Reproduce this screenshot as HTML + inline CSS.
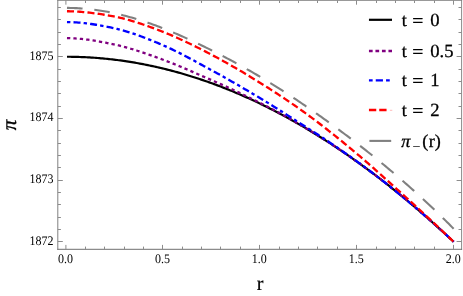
<!DOCTYPE html>
<html><head><meta charset="utf-8"><title>plot</title>
<style>html,body{margin:0;padding:0;background:#fff}svg{display:block;will-change:transform}text{text-rendering:geometricPrecision}</style></head>
<body>
<svg width="463" height="296" viewBox="0 0 463 296">
<rect width="463" height="296" fill="#fff"/>
<path d="M66.97,56.75 L68.58,56.76 L70.20,56.77 L71.82,56.79 L73.44,56.82 L75.06,56.85 L76.67,56.89 L78.29,56.94 L79.91,57.00 L81.53,57.05 L83.15,57.12 L84.76,57.19 L86.38,57.27 L88.00,57.36 L89.62,57.45 L91.23,57.55 L92.85,57.66 L94.47,57.77 L96.09,57.89 L97.71,58.01 L99.32,58.14 L100.94,58.28 L102.56,58.43 L104.18,58.58 L105.80,58.74 L107.41,58.90 L109.03,59.07 L110.65,59.25 L112.27,59.43 L113.88,59.62 L115.50,59.82 L117.12,60.03 L118.74,60.24 L120.36,60.45 L121.97,60.68 L123.59,60.90 L125.21,61.14 L126.83,61.38 L128.45,61.63 L130.06,61.89 L131.68,62.15 L133.30,62.42 L134.92,62.70 L136.54,62.98 L138.15,63.27 L139.77,63.56 L141.39,63.86 L143.01,64.17 L144.62,64.48 L146.24,64.81 L147.86,65.13 L149.48,65.47 L151.10,65.81 L152.71,66.15 L154.33,66.51 L155.95,66.87 L157.57,67.23 L159.19,67.61 L160.80,67.99 L162.42,68.37 L164.04,68.77 L165.66,69.16 L167.27,69.57 L168.89,69.98 L170.51,70.40 L172.13,70.83 L173.75,71.26 L175.36,71.70 L176.98,72.14 L178.60,72.59 L180.22,73.05 L181.84,73.51 L183.45,73.98 L185.07,74.46 L186.69,74.94 L188.31,75.43 L189.93,75.93 L191.54,76.43 L193.16,76.94 L194.78,77.46 L196.40,77.98 L198.01,78.51 L199.63,79.04 L201.25,79.59 L202.87,80.13 L204.49,80.69 L206.10,81.25 L207.72,81.82 L209.34,82.39 L210.96,82.97 L212.58,83.56 L214.19,84.15 L215.81,84.75 L217.43,85.36 L219.05,85.97 L220.67,86.59 L222.28,87.22 L223.90,87.85 L225.52,88.49 L227.14,89.13 L228.75,89.78 L230.37,90.44 L231.99,91.10 L233.61,91.78 L235.23,92.45 L236.84,93.14 L238.46,93.83 L240.08,94.52 L241.70,95.23 L243.32,95.93 L244.93,96.65 L246.55,97.37 L248.17,98.10 L249.79,98.84 L251.40,99.58 L253.02,100.32 L254.64,101.08 L256.26,101.84 L257.88,102.61 L259.49,103.38 L261.11,104.16 L262.73,104.95 L264.35,105.74 L265.97,106.54 L267.58,107.34 L269.20,108.15 L270.82,108.97 L272.44,109.80 L274.06,110.63 L275.67,111.46 L277.29,112.31 L278.91,113.16 L280.53,114.01 L282.14,114.88 L283.76,115.75 L285.38,116.62 L287.00,117.50 L288.62,118.39 L290.23,119.29 L291.85,120.19 L293.47,121.09 L295.09,122.01 L296.71,122.93 L298.32,123.85 L299.94,124.79 L301.56,125.72 L303.18,126.67 L304.79,127.62 L306.41,128.58 L308.03,129.54 L309.65,130.51 L311.27,131.49 L312.88,132.47 L314.50,133.46 L316.12,134.46 L317.74,135.46 L319.36,136.47 L320.97,137.48 L322.59,138.50 L324.21,139.53 L325.83,140.56 L327.45,141.60 L329.06,142.65 L330.68,143.70 L332.30,144.76 L333.92,145.83 L335.53,146.90 L337.15,147.97 L338.77,149.06 L340.39,150.15 L342.01,151.24 L343.62,152.35 L345.24,153.45 L346.86,154.57 L348.48,155.69 L350.10,156.82 L351.71,157.95 L353.33,159.09 L354.95,160.24 L356.57,161.39 L358.18,162.55 L359.80,163.71 L361.42,164.88 L363.04,166.06 L364.66,167.24 L366.27,168.43 L367.89,169.63 L369.51,170.83 L371.13,172.04 L372.75,173.25 L374.36,174.47 L375.98,175.70 L377.60,176.93 L379.22,178.17 L380.84,179.42 L382.45,180.67 L384.07,181.92 L385.69,183.19 L387.31,184.46 L388.92,185.73 L390.54,187.02 L392.16,188.30 L393.78,189.60 L395.40,190.90 L397.01,192.20 L398.63,193.52 L400.25,194.84 L401.87,196.16 L403.49,197.49 L405.10,198.83 L406.72,200.17 L408.34,201.52 L409.96,202.88 L411.58,204.24 L413.19,205.61 L414.81,206.98 L416.43,208.36 L418.05,209.75 L419.66,211.14 L421.28,212.54 L422.90,213.94 L424.52,215.35 L426.14,216.77 L427.75,218.19 L429.37,219.62 L430.99,221.05 L432.61,222.49 L434.23,223.94 L435.84,225.39 L437.46,226.85 L439.08,228.31 L440.70,229.78 L442.31,231.26 L443.93,232.74 L445.55,234.23 L447.17,235.72 L448.79,237.22 L450.40,238.73 L452.02,240.24 L453.64,241.76" fill="none" stroke="#000" stroke-width="2.2"/>
<path d="M66.97,38.15 L68.58,38.18 L70.20,38.22 L71.82,38.28 L73.44,38.35 L75.06,38.44 L76.67,38.55 L78.29,38.68 L79.91,38.82 L81.53,38.97 L83.15,39.14 L84.76,39.33 L86.38,39.52 L88.00,39.73 L89.62,39.95 L91.23,40.19 L92.85,40.43 L94.47,40.69 L96.09,40.95 L97.71,41.23 L99.32,41.51 L100.94,41.80 L102.56,42.10 L104.18,42.41 L105.80,42.72 L107.41,43.04 L109.03,43.37 L110.65,43.70 L112.27,44.04 L113.88,44.38 L115.50,44.73 L117.12,45.09 L118.74,45.47 L120.36,45.86 L121.97,46.27 L123.59,46.69 L125.21,47.12 L126.83,47.57 L128.45,48.03 L130.06,48.50 L131.68,48.98 L133.30,49.47 L134.92,49.97 L136.54,50.48 L138.15,51.00 L139.77,51.53 L141.39,52.07 L143.01,52.61 L144.62,53.16 L146.24,53.72 L147.86,54.28 L149.48,54.85 L151.10,55.42 L152.71,56.00 L154.33,56.58 L155.95,57.16 L157.57,57.75 L159.19,58.34 L160.80,58.93 L162.42,59.52 L164.04,60.12 L165.66,60.72 L167.27,61.33 L168.89,61.96 L170.51,62.59 L172.13,63.23 L173.75,63.88 L175.36,64.53 L176.98,65.19 L178.60,65.86 L180.22,66.53 L181.84,67.21 L183.45,67.90 L185.07,68.58 L186.69,69.28 L188.31,69.97 L189.93,70.67 L191.54,71.37 L193.16,72.08 L194.78,72.78 L196.40,73.49 L198.01,74.20 L199.63,74.91 L201.25,75.62 L202.87,76.33 L204.49,77.03 L206.10,77.74 L207.72,78.44 L209.34,79.15 L210.96,79.85 L212.58,80.55 L214.19,81.25 L215.81,81.96 L217.43,82.68 L219.05,83.40 L220.67,84.12 L222.28,84.85 L223.90,85.58 L225.52,86.32 L227.14,87.06 L228.75,87.81 L230.37,88.56 L231.99,89.32 L233.61,90.08 L235.23,90.84 L236.84,91.61 L238.46,92.38 L240.08,93.15 L241.70,93.93 L243.32,94.71 L244.93,95.49 L246.55,96.28 L248.17,97.07 L249.79,97.86 L251.40,98.66 L253.02,99.46 L254.64,100.26 L256.26,101.06 L257.88,101.87 L259.49,102.67 L261.11,103.49 L262.73,104.30 L264.35,105.13 L265.97,105.96 L267.58,106.79 L269.20,107.63 L270.82,108.48 L272.44,109.33 L274.06,110.18 L275.67,111.05 L277.29,111.91 L278.91,112.79 L280.53,113.67 L282.14,114.55 L283.76,115.44 L285.38,116.34 L287.00,117.24 L288.62,118.15 L290.23,119.06 L291.85,119.97 L293.47,120.90 L295.09,121.83 L296.71,122.76 L298.32,123.70 L299.94,124.64 L301.56,125.59 L303.18,126.55 L304.79,127.51 L306.41,128.47 L308.03,129.44 L309.65,130.42 L311.27,131.40 L312.88,132.39 L314.50,133.38 L316.12,134.39 L317.74,135.39 L319.36,136.41 L320.97,137.42 L322.59,138.45 L324.21,139.48 L325.83,140.52 L327.45,141.56 L329.06,142.61 L330.68,143.67 L332.30,144.73 L333.92,145.80 L335.53,146.87 L337.15,147.96 L338.77,149.04 L340.39,150.13 L342.01,151.23 L343.62,152.34 L345.24,153.45 L346.86,154.56 L348.48,155.69 L350.10,156.82 L351.71,157.95 L353.33,159.09 L354.95,160.24 L356.57,161.39 L358.18,162.55 L359.80,163.71 L361.42,164.88 L363.04,166.06 L364.66,167.24 L366.27,168.43 L367.89,169.63 L369.51,170.83 L371.13,172.04 L372.75,173.25 L374.36,174.47 L375.98,175.70 L377.60,176.93 L379.22,178.17 L380.84,179.42 L382.45,180.67 L384.07,181.92 L385.69,183.19 L387.31,184.46 L388.92,185.73 L390.54,187.02 L392.16,188.30 L393.78,189.60 L395.40,190.90 L397.01,192.20 L398.63,193.52 L400.25,194.84 L401.87,196.16 L403.49,197.49 L405.10,198.83 L406.72,200.17 L408.34,201.52 L409.96,202.88 L411.58,204.24 L413.19,205.61 L414.81,206.98 L416.43,208.36 L418.05,209.75 L419.66,211.14 L421.28,212.54 L422.90,213.94 L424.52,215.35 L426.14,216.77 L427.75,218.19 L429.37,219.62 L430.99,221.05 L432.61,222.49 L434.23,223.94 L435.84,225.39 L437.46,226.85 L439.08,228.31 L440.70,229.78 L442.31,231.26 L443.93,232.74 L445.55,234.23 L447.17,235.72 L448.79,237.22 L450.40,238.73 L452.02,240.24 L453.64,241.76" fill="none" stroke="#800080" stroke-width="2.3" stroke-dasharray="3.3 3.125"/>
<path d="M66.97,22.05 L68.58,22.07 L70.20,22.11 L71.82,22.17 L73.44,22.24 L75.06,22.33 L76.67,22.43 L78.29,22.55 L79.91,22.68 L81.53,22.83 L83.15,22.99 L84.76,23.17 L86.38,23.36 L88.00,23.56 L89.62,23.78 L91.23,24.00 L92.85,24.24 L94.47,24.49 L96.09,24.75 L97.71,25.02 L99.32,25.30 L100.94,25.58 L102.56,25.88 L104.18,26.19 L105.80,26.50 L107.41,26.82 L109.03,27.15 L110.65,27.49 L112.27,27.83 L113.88,28.18 L115.50,28.53 L117.12,28.91 L118.74,29.30 L120.36,29.72 L121.97,30.15 L123.59,30.59 L125.21,31.06 L126.83,31.53 L128.45,32.03 L130.06,32.54 L131.68,33.06 L133.30,33.60 L134.92,34.15 L136.54,34.71 L138.15,35.29 L139.77,35.87 L141.39,36.47 L143.01,37.08 L144.62,37.70 L146.24,38.33 L147.86,38.96 L149.48,39.61 L151.10,40.26 L152.71,40.92 L154.33,41.58 L155.95,42.26 L157.57,42.93 L159.19,43.62 L160.80,44.30 L162.42,45.00 L164.04,45.69 L165.66,46.41 L167.27,47.13 L168.89,47.87 L170.51,48.63 L172.13,49.40 L173.75,50.18 L175.36,50.97 L176.98,51.77 L178.60,52.58 L180.22,53.40 L181.84,54.23 L183.45,55.07 L185.07,55.91 L186.69,56.76 L188.31,57.62 L189.93,58.48 L191.54,59.35 L193.16,60.23 L194.78,61.10 L196.40,61.98 L198.01,62.86 L199.63,63.74 L201.25,64.63 L202.87,65.51 L204.49,66.39 L206.10,67.28 L207.72,68.16 L209.34,69.03 L210.96,69.91 L212.58,70.78 L214.19,71.66 L215.81,72.55 L217.43,73.44 L219.05,74.33 L220.67,75.23 L222.28,76.13 L223.90,77.04 L225.52,77.95 L227.14,78.86 L228.75,79.78 L230.37,80.70 L231.99,81.63 L233.61,82.56 L235.23,83.49 L236.84,84.43 L238.46,85.36 L240.08,86.30 L241.70,87.25 L243.32,88.19 L244.93,89.14 L246.55,90.09 L248.17,91.04 L249.79,92.00 L251.40,92.95 L253.02,93.91 L254.64,94.87 L256.26,95.83 L257.88,96.79 L259.49,97.75 L261.11,98.71 L262.73,99.68 L264.35,100.66 L265.97,101.65 L267.58,102.64 L269.20,103.64 L270.82,104.64 L272.44,105.65 L274.06,106.66 L275.67,107.67 L277.29,108.70 L278.91,109.72 L280.53,110.75 L282.14,111.78 L283.76,112.81 L285.38,113.84 L287.00,114.88 L288.62,115.92 L290.23,116.96 L291.85,117.99 L293.47,119.03 L295.09,120.07 L296.71,121.11 L298.32,122.15 L299.94,123.19 L301.56,124.22 L303.18,125.25 L304.79,126.28 L306.41,127.31 L308.03,128.34 L309.65,129.36 L311.27,130.39 L312.88,131.42 L314.50,132.46 L316.12,133.51 L317.74,134.56 L319.36,135.61 L320.97,136.67 L322.59,137.73 L324.21,138.80 L325.83,139.88 L327.45,140.95 L329.06,142.04 L330.68,143.13 L332.30,144.22 L333.92,145.32 L335.53,146.42 L337.15,147.53 L338.77,148.64 L340.39,149.76 L342.01,150.88 L343.62,152.01 L345.24,153.14 L346.86,154.27 L348.48,155.41 L350.10,156.56 L351.71,157.71 L353.33,158.86 L354.95,160.02 L356.57,161.19 L358.18,162.36 L359.80,163.53 L361.42,164.71 L363.04,165.90 L364.66,167.10 L366.27,168.30 L367.89,169.50 L369.51,170.71 L371.13,171.93 L372.75,173.15 L374.36,174.38 L375.98,175.62 L377.60,176.86 L379.22,178.10 L380.84,179.36 L382.45,180.62 L384.07,181.88 L385.69,183.15 L387.31,184.42 L388.92,185.71 L390.54,186.99 L392.16,188.29 L393.78,189.58 L395.40,190.89 L397.01,192.20 L398.63,193.51 L400.25,194.83 L401.87,196.16 L403.49,197.49 L405.10,198.83 L406.72,200.17 L408.34,201.52 L409.96,202.88 L411.58,204.24 L413.19,205.61 L414.81,206.98 L416.43,208.36 L418.05,209.75 L419.66,211.14 L421.28,212.54 L422.90,213.94 L424.52,215.35 L426.14,216.77 L427.75,218.19 L429.37,219.62 L430.99,221.05 L432.61,222.49 L434.23,223.94 L435.84,225.39 L437.46,226.85 L439.08,228.31 L440.70,229.78 L442.31,231.26 L443.93,232.74 L445.55,234.23 L447.17,235.72 L448.79,237.22 L450.40,238.73 L452.02,240.24 L453.64,241.76" fill="none" stroke="#0000ff" stroke-width="2.3" stroke-dasharray="3.4 3.15 7.0 3.13"/>
<path d="M66.97,11.25 L68.58,11.27 L70.20,11.30 L71.82,11.35 L73.44,11.41 L75.06,11.48 L76.67,11.56 L78.29,11.66 L79.91,11.77 L81.53,11.90 L83.15,12.03 L84.76,12.18 L86.38,12.34 L88.00,12.51 L89.62,12.69 L91.23,12.88 L92.85,13.08 L94.47,13.29 L96.09,13.51 L97.71,13.74 L99.32,13.98 L100.94,14.23 L102.56,14.48 L104.18,14.75 L105.80,15.02 L107.41,15.30 L109.03,15.59 L110.65,15.88 L112.27,16.18 L113.88,16.49 L115.50,16.81 L117.12,17.14 L118.74,17.49 L120.36,17.86 L121.97,18.24 L123.59,18.64 L125.21,19.06 L126.83,19.48 L128.45,19.93 L130.06,20.38 L131.68,20.86 L133.30,21.34 L134.92,21.83 L136.54,22.34 L138.15,22.86 L139.77,23.39 L141.39,23.93 L143.01,24.48 L144.62,25.03 L146.24,25.60 L147.86,26.18 L149.48,26.76 L151.10,27.35 L152.71,27.95 L154.33,28.55 L155.95,29.16 L157.57,29.78 L159.19,30.40 L160.80,31.02 L162.42,31.65 L164.04,32.29 L165.66,32.93 L167.27,33.59 L168.89,34.25 L170.51,34.93 L172.13,35.62 L173.75,36.32 L175.36,37.02 L176.98,37.74 L178.60,38.46 L180.22,39.20 L181.84,39.94 L183.45,40.69 L185.07,41.45 L186.69,42.21 L188.31,42.99 L189.93,43.77 L191.54,44.55 L193.16,45.35 L194.78,46.14 L196.40,46.95 L198.01,47.76 L199.63,48.58 L201.25,49.40 L202.87,50.22 L204.49,51.05 L206.10,51.89 L207.72,52.73 L209.34,53.57 L210.96,54.42 L212.58,55.26 L214.19,56.12 L215.81,56.98 L217.43,57.85 L219.05,58.73 L220.67,59.61 L222.28,60.50 L223.90,61.39 L225.52,62.29 L227.14,63.20 L228.75,64.11 L230.37,65.03 L231.99,65.95 L233.61,66.88 L235.23,67.82 L236.84,68.76 L238.46,69.70 L240.08,70.65 L241.70,71.61 L243.32,72.57 L244.93,73.54 L246.55,74.51 L248.17,75.48 L249.79,76.46 L251.40,77.45 L253.02,78.44 L254.64,79.43 L256.26,80.43 L257.88,81.43 L259.49,82.44 L261.11,83.45 L262.73,84.47 L264.35,85.48 L265.97,86.51 L267.58,87.53 L269.20,88.57 L270.82,89.60 L272.44,90.64 L274.06,91.69 L275.67,92.74 L277.29,93.79 L278.91,94.85 L280.53,95.92 L282.14,96.99 L283.76,98.07 L285.38,99.15 L287.00,100.24 L288.62,101.34 L290.23,102.44 L291.85,103.55 L293.47,104.66 L295.09,105.78 L296.71,106.91 L298.32,108.05 L299.94,109.19 L301.56,110.34 L303.18,111.50 L304.79,112.66 L306.41,113.84 L308.03,115.02 L309.65,116.20 L311.27,117.40 L312.88,118.60 L314.50,119.82 L316.12,121.04 L317.74,122.26 L319.36,123.50 L320.97,124.74 L322.59,125.99 L324.21,127.24 L325.83,128.50 L327.45,129.77 L329.06,131.04 L330.68,132.32 L332.30,133.61 L333.92,134.90 L335.53,136.20 L337.15,137.50 L338.77,138.81 L340.39,140.12 L342.01,141.44 L343.62,142.76 L345.24,144.09 L346.86,145.42 L348.48,146.76 L350.10,148.10 L351.71,149.44 L353.33,150.79 L354.95,152.15 L356.57,153.50 L358.18,154.86 L359.80,156.23 L361.42,157.61 L363.04,159.00 L364.66,160.39 L366.27,161.80 L367.89,163.20 L369.51,164.62 L371.13,166.04 L372.75,167.47 L374.36,168.90 L375.98,170.33 L377.60,171.78 L379.22,173.22 L380.84,174.67 L382.45,176.12 L384.07,177.57 L385.69,179.03 L387.31,180.49 L388.92,181.95 L390.54,183.41 L392.16,184.87 L393.78,186.33 L395.40,187.79 L397.01,189.25 L398.63,190.71 L400.25,192.16 L401.87,193.62 L403.49,195.07 L405.10,196.52 L406.72,197.98 L408.34,199.43 L409.96,200.90 L411.58,202.36 L413.19,203.83 L414.81,205.31 L416.43,206.79 L418.05,208.28 L419.66,209.77 L421.28,211.26 L422.90,212.76 L424.52,214.26 L426.14,215.77 L427.75,217.28 L429.37,218.79 L430.99,220.30 L432.61,221.82 L434.23,223.34 L435.84,224.87 L437.46,226.39 L439.08,227.92 L440.70,229.45 L442.31,230.98 L443.93,232.52 L445.55,234.06 L447.17,235.59 L448.79,237.13 L450.40,238.67 L452.02,240.22 L453.64,241.76" fill="none" stroke="#ff0000" stroke-width="2.3" stroke-dasharray="7.05 3.225"/>
<path d="M66.97,7.90 L68.58,7.92 L70.20,7.94 L71.82,7.98 L73.44,8.03 L75.06,8.10 L76.67,8.17 L78.29,8.26 L79.91,8.36 L81.53,8.47 L83.15,8.59 L84.76,8.73 L86.38,8.87 L88.00,9.03 L89.62,9.20 L91.23,9.38 L92.85,9.58 L94.47,9.78 L96.09,10.00 L97.71,10.23 L99.32,10.47 L100.94,10.72 L102.56,10.98 L104.18,11.26 L105.80,11.54 L107.41,11.84 L109.03,12.15 L110.65,12.47 L112.27,12.80 L113.88,13.14 L115.50,13.49 L117.12,13.85 L118.74,14.23 L120.36,14.61 L121.97,15.01 L123.59,15.41 L125.21,15.83 L126.83,16.26 L128.45,16.69 L130.06,17.14 L131.68,17.60 L133.30,18.07 L134.92,18.54 L136.54,19.03 L138.15,19.53 L139.77,20.03 L141.39,20.55 L143.01,21.07 L144.62,21.60 L146.24,22.15 L147.86,22.70 L149.48,23.26 L151.10,23.83 L152.71,24.41 L154.33,24.99 L155.95,25.59 L157.57,26.19 L159.19,26.80 L160.80,27.42 L162.42,28.05 L164.04,28.69 L165.66,29.33 L167.27,29.98 L168.89,30.64 L170.51,31.31 L172.13,31.98 L173.75,32.66 L175.36,33.35 L176.98,34.04 L178.60,34.74 L180.22,35.45 L181.84,36.17 L183.45,36.89 L185.07,37.61 L186.69,38.35 L188.31,39.09 L189.93,39.83 L191.54,40.58 L193.16,41.34 L194.78,42.10 L196.40,42.87 L198.01,43.64 L199.63,44.42 L201.25,45.20 L202.87,45.99 L204.49,46.78 L206.10,47.58 L207.72,48.38 L209.34,49.18 L210.96,49.99 L212.58,50.81 L214.19,51.63 L215.81,52.45 L217.43,53.27 L219.05,54.10 L220.67,54.94 L222.28,55.78 L223.90,56.62 L225.52,57.47 L227.14,58.32 L228.75,59.18 L230.37,60.04 L231.99,60.91 L233.61,61.78 L235.23,62.66 L236.84,63.54 L238.46,64.43 L240.08,65.32 L241.70,66.22 L243.32,67.12 L244.93,68.03 L246.55,68.94 L248.17,69.86 L249.79,70.78 L251.40,71.71 L253.02,72.64 L254.64,73.58 L256.26,74.53 L257.88,75.48 L259.49,76.44 L261.11,77.40 L262.73,78.37 L264.35,79.35 L265.97,80.33 L267.58,81.31 L269.20,82.31 L270.82,83.30 L272.44,84.31 L274.06,85.32 L275.67,86.33 L277.29,87.35 L278.91,88.37 L280.53,89.40 L282.14,90.44 L283.76,91.48 L285.38,92.53 L287.00,93.58 L288.62,94.63 L290.23,95.69 L291.85,96.76 L293.47,97.83 L295.09,98.90 L296.71,99.99 L298.32,101.07 L299.94,102.16 L301.56,103.25 L303.18,104.35 L304.79,105.46 L306.41,106.56 L308.03,107.68 L309.65,108.79 L311.27,109.91 L312.88,111.04 L314.50,112.17 L316.12,113.30 L317.74,114.44 L319.36,115.59 L320.97,116.73 L322.59,117.89 L324.21,119.04 L325.83,120.20 L327.45,121.37 L329.06,122.54 L330.68,123.71 L332.30,124.89 L333.92,126.07 L335.53,127.26 L337.15,128.45 L338.77,129.65 L340.39,130.85 L342.01,132.06 L343.62,133.27 L345.24,134.48 L346.86,135.70 L348.48,136.93 L350.10,138.15 L351.71,139.39 L353.33,140.62 L354.95,141.87 L356.57,143.11 L358.18,144.36 L359.80,145.62 L361.42,146.88 L363.04,148.14 L364.66,149.41 L366.27,150.69 L367.89,151.97 L369.51,153.25 L371.13,154.54 L372.75,155.84 L374.36,157.14 L375.98,158.44 L377.60,159.76 L379.22,161.07 L380.84,162.39 L382.45,163.72 L384.07,165.05 L385.69,166.39 L387.31,167.74 L388.92,169.09 L390.54,170.45 L392.16,171.81 L393.78,173.18 L395.40,174.55 L397.01,175.93 L398.63,177.32 L400.25,178.72 L401.87,180.12 L403.49,181.52 L405.10,182.94 L406.72,184.36 L408.34,185.79 L409.96,187.22 L411.58,188.66 L413.19,190.11 L414.81,191.56 L416.43,193.02 L418.05,194.49 L419.66,195.97 L421.28,197.45 L422.90,198.94 L424.52,200.44 L426.14,201.95 L427.75,203.46 L429.37,204.98 L430.99,206.51 L432.61,208.05 L434.23,209.59 L435.84,211.14 L437.46,212.70 L439.08,214.27 L440.70,215.85 L442.31,217.43 L443.93,219.02 L445.55,220.63 L447.17,222.24 L448.79,223.85 L450.40,225.48 L452.02,227.12 L453.64,228.76" fill="none" stroke="#808080" stroke-width="2.1" stroke-dasharray="15.6 11.82"/>
<g stroke-width="1.0" fill="none">
<path d="M57.8,-0.2 V249.8" stroke="#808080"/>
<path d="M461.6,-0.2 V249.8" stroke="#8a8a8a"/>
<path d="M57.3,0.3 H462.1" stroke="#808080"/>
<path d="M57.3,249.3 H462.1" stroke="#707070"/>
</g>
<path d="M65.90,249.3 v-4.4 M65.90,0.3 v4.4 M85.50,249.3 v-2.7 M85.50,0.3 v2.7 M104.50,249.3 v-2.7 M104.50,0.3 v2.7 M124.50,249.3 v-2.7 M124.50,0.3 v2.7 M143.50,249.3 v-2.7 M143.50,0.3 v2.7 M162.50,249.3 v-4.4 M162.50,0.3 v4.4 M182.50,249.3 v-2.7 M182.50,0.3 v2.7 M201.50,249.3 v-2.7 M201.50,0.3 v2.7 M220.50,249.3 v-2.7 M220.50,0.3 v2.7 M240.50,249.3 v-2.7 M240.50,0.3 v2.7 M259.50,249.3 v-4.4 M259.50,0.3 v4.4 M279.50,249.3 v-2.7 M279.50,0.3 v2.7 M298.50,249.3 v-2.7 M298.50,0.3 v2.7 M317.50,249.3 v-2.7 M317.50,0.3 v2.7 M337.50,249.3 v-2.7 M337.50,0.3 v2.7 M356.50,249.3 v-4.4 M356.50,0.3 v4.4 M376.50,249.3 v-2.7 M376.50,0.3 v2.7 M395.50,249.3 v-2.7 M395.50,0.3 v2.7 M414.50,249.3 v-2.7 M414.50,0.3 v2.7 M434.50,249.3 v-2.7 M434.50,0.3 v2.7 M453.50,249.3 v-4.4 M453.50,0.3 v4.4 M57.8,241.50 h5.0 M461.6,241.50 h-5.0 M57.8,229.50 h3.1 M461.6,229.50 h-3.1 M57.8,217.50 h3.1 M461.6,217.50 h-3.1 M57.8,204.50 h3.1 M461.6,204.50 h-3.1 M57.8,192.50 h3.1 M461.6,192.50 h-3.1 M57.8,180.50 h5.0 M461.6,180.50 h-5.0 M57.8,167.50 h3.1 M461.6,167.50 h-3.1 M57.8,155.50 h3.1 M461.6,155.50 h-3.1 M57.8,143.50 h3.1 M461.6,143.50 h-3.1 M57.8,130.50 h3.1 M461.6,130.50 h-3.1 M57.8,118.50 h5.0 M461.6,118.50 h-5.0 M57.8,106.50 h3.1 M461.6,106.50 h-3.1 M57.8,93.50 h3.1 M461.6,93.50 h-3.1 M57.8,81.50 h3.1 M461.6,81.50 h-3.1 M57.8,69.50 h3.1 M461.6,69.50 h-3.1 M57.8,56.50 h5.0 M461.6,56.50 h-5.0 M57.8,44.50 h3.1 M461.6,44.50 h-3.1 M57.8,32.50 h3.1 M461.6,32.50 h-3.1 M57.8,19.50 h3.1 M461.6,19.50 h-3.1 M57.8,7.50 h3.1 M461.6,7.50 h-3.1" stroke="#8c8c8c" stroke-width="1" fill="none"/>
<g font-family="'Liberation Serif', serif" font-size="12px" fill="#000">
<text transform="translate(65.50,262.5) scale(1,1.09)" text-anchor="middle">0.0</text>
<text transform="translate(162.44,262.5) scale(1,1.09)" text-anchor="middle">0.5</text>
<text transform="translate(259.37,262.5) scale(1,1.09)" text-anchor="middle">1.0</text>
<text transform="translate(356.31,262.5) scale(1,1.09)" text-anchor="middle">1.5</text>
<text transform="translate(453.24,262.5) scale(1,1.09)" text-anchor="middle">2.0</text>
<text transform="translate(53.4,244.76) scale(1,1.09)" text-anchor="end">1872</text>
<text transform="translate(53.4,183.09) scale(1,1.09)" text-anchor="end">1873</text>
<text transform="translate(53.4,121.42) scale(1,1.09)" text-anchor="end">1874</text>
<text transform="translate(53.4,59.75) scale(1,1.09)" text-anchor="end">1875</text>
</g>
<text x="260.0" y="289.6" text-anchor="middle" font-family="'Liberation Serif', serif" font-size="20px" stroke="#000" stroke-width="0.2">r</text>
<text transform="translate(16.0,124.9) rotate(-90)" text-anchor="middle" font-family="'Liberation Serif', serif" font-style="italic" font-size="21px" stroke="#000" stroke-width="0.3">π</text>
<path d="M368.95,19.8 H392.0" fill="none" stroke="#000" stroke-width="2.2"/>
<path d="M368.95,51.0 H392.0" fill="none" stroke="#800080" stroke-width="2.3" stroke-dasharray="3.7 2.8"/>
<path d="M368.95,80.3 H392.0" fill="none" stroke="#0000ff" stroke-width="2.3" stroke-dasharray="3.7 3.1 7.2 3.1"/>
<path d="M368.95,110.0 H388.0" fill="none" stroke="#ff0000" stroke-width="2.3" stroke-dasharray="7.3 3.0"/>
<path d="M389.9,110.3 H392.3" fill="none" stroke="#ff0000" stroke-opacity="0.3" stroke-width="0.9"/>
<path d="M369.4,140.9 H391.2" fill="none" stroke="#808080" stroke-width="2.1"/>
<g font-family="'Liberation Serif', serif" font-size="18.2px" fill="#000" stroke="#000" stroke-width="0.3">
<text x="401.7" y="26.10">t</text><text x="412.3" y="27.40" font-size="19.6px">=</text><text x="430.25" y="26.10" font-size="18.6px">0</text>
<text x="401.7" y="56.65">t</text><text x="412.3" y="57.95" font-size="19.6px">=</text><text x="430.25" y="56.65" font-size="18.6px">0.5</text>
<text x="401.7" y="86.00">t</text><text x="412.3" y="87.30" font-size="19.6px">=</text><text x="430.25" y="86.00" font-size="18.6px">1</text>
<text x="401.7" y="115.90">t</text><text x="412.3" y="117.20" font-size="19.6px">=</text><text x="430.25" y="115.90" font-size="18.6px">2</text>
<text x="401.2" y="146.70" font-style="italic">π</text>
<text x="412.5" y="151.00" font-size="14px" stroke-width="0.15">−</text>
<text x="422.2" y="146.70">(</text><text x="428.85" y="146.70">r</text><text x="434.85" y="146.70">)</text>
</g>
</svg>
</body></html>
